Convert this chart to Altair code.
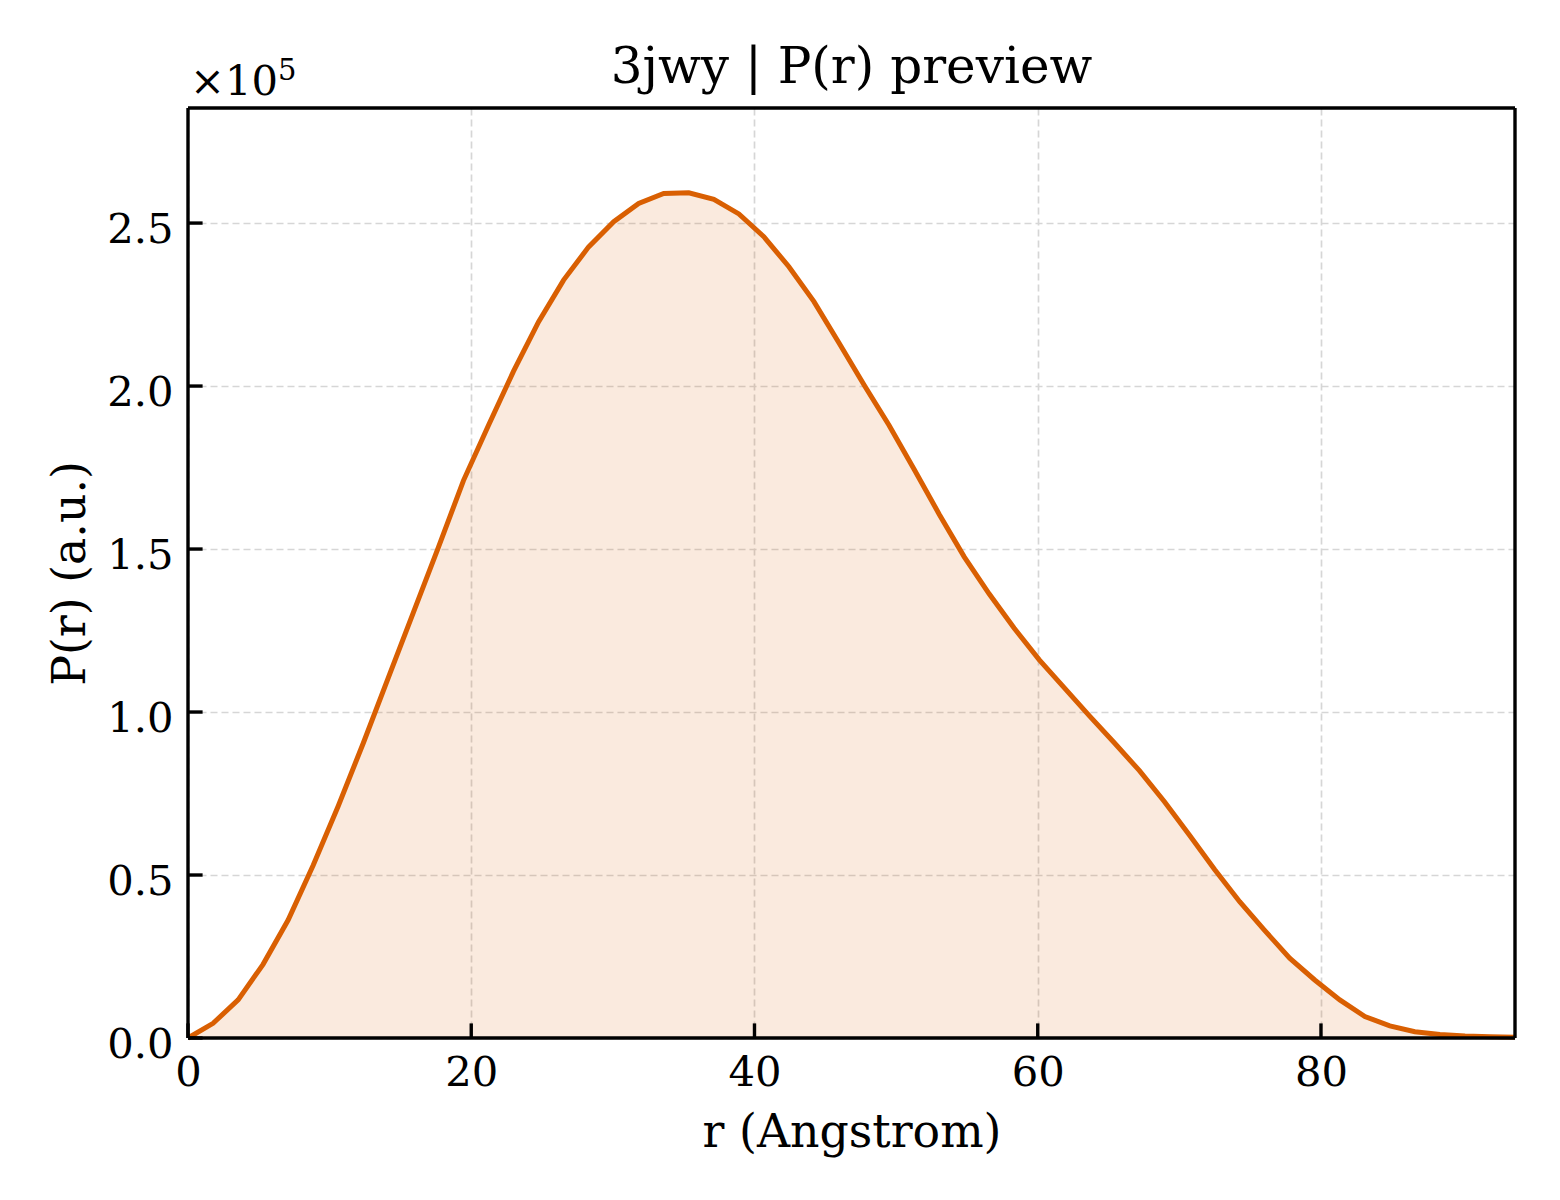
import altair as alt
import pandas as pd

# ---- data ----
r_vals = [0.00, 1.77, 3.54, 5.30, 7.07, 8.84, 10.61, 12.38, 14.14, 15.91,
          17.68, 19.45, 21.22, 22.98, 24.75, 26.52, 28.29, 30.06, 31.82, 33.59,
          35.36, 37.13, 38.90, 40.66, 42.43, 44.20, 45.97, 47.74, 49.50, 51.27,
          53.04, 54.81, 56.58, 58.34, 60.11, 61.88, 63.65, 65.42, 67.18, 68.95,
          70.72, 72.49, 74.26, 76.02, 77.79, 79.56, 81.33, 83.10, 84.86, 86.63,
          88.40, 90.17, 91.94, 93.70]
p_vals = [0, 4500, 11700, 22600, 36200, 53000, 71200, 90500, 110500, 130500,
          150500, 171000, 188000, 204500, 219700, 232500, 242700, 250400, 256000, 259100,
          259300, 257300, 252800, 245800, 236600, 225900, 213200, 200300, 188000, 174500,
          160700, 147600, 136200, 125700, 116000, 107400, 98800, 90500, 82000, 72500,
          62200, 51700, 41800, 33000, 24500, 17800, 11700, 6600, 3700, 1900,
          1100, 600, 400, 200]
x_ticks = [0, 20, 40, 60, 80]
y_ticks = [0, 50000, 100000, 150000, 200000, 250000]
title_text = "3jwy | P(r) preview"
x_title = "r (Angstrom)"
y_title = "P(r) (a.u.)"

X_MAX, Y_MAX = 93.7, 285300
W, H = 1327, 930
FONT = "DejaVu Serif"
COLOR = "#d95f02"
TICK = 14.6   # inward tick length, px
LW = 3.4      # frame / tick line width, px

df = pd.DataFrame({"r": r_vals, "P": p_vals})
xt = pd.DataFrame({"v": x_ticks})
yt = pd.DataFrame({"v": y_ticks})

xscale = alt.Scale(domain=[0, X_MAX], nice=False, zero=False)
yscale = alt.Scale(domain=[0, Y_MAX], nice=False, zero=False)

common = dict(
    ticks=False, domain=False, grid=True,
    gridColor="#d6d6d6", gridWidth=1.7, gridDash=[7, 4],
    labelFont=FONT, labelFontSize=41.7, labelColor="black",
    labelFlush=False, labelOverlap=False,
    titleFont=FONT, titleFontSize=45.8, titleFontWeight="normal", titleColor="black",
    titleBaseline="alphabetic",
)
xaxis = alt.Axis(values=x_ticks, title=x_title, labelPadding=14.5, format="d",
                 titleY=108, **common)
yaxis = alt.Axis(values=y_ticks, title=y_title, labelPadding=15, labelOffset=6,
                 labelExpr="format(datum.value/100000, '.1f')",
                 titleX=-104, titleY=H / 2, titleAngle=-90, titleAlign="center",
                 **common)

base = alt.Chart(df)
area = base.mark_area(color=COLOR, fillOpacity=0.13).encode(
    x=alt.X("r:Q", scale=xscale, axis=xaxis),
    y=alt.Y("P:Q", scale=yscale, axis=yaxis),
)
line = base.mark_line(color=COLOR, strokeWidth=5).encode(
    x=alt.X("r:Q", scale=xscale),
    y=alt.Y("P:Q", scale=yscale),
)

# inward ticks
ytick_rules = alt.Chart(yt).mark_rule(color="black", strokeWidth=LW).encode(
    y=alt.Y("v:Q", scale=yscale),
    x=alt.value(0),
    x2=alt.value(TICK),
)
xtick_rules = alt.Chart(xt).mark_rule(color="black", strokeWidth=LW).encode(
    x=alt.X("v:Q", scale=xscale),
    y=alt.value(H),
    y2=alt.value(H - TICK),
)

# plot frame through the scales' extremes
frame_h = alt.Chart(pd.DataFrame({"f": [0, Y_MAX]})).mark_rule(color="black", strokeWidth=LW).encode(
    y=alt.Y("f:Q", scale=yscale), x=alt.value(0), x2=alt.value(W))
frame_v = alt.Chart(pd.DataFrame({"f": [0, X_MAX]})).mark_rule(color="black", strokeWidth=LW).encode(
    x=alt.X("f:Q", scale=xscale), y=alt.value(0), y2=alt.value(H))

title_mark = alt.Chart(pd.DataFrame({"t": [title_text]})).mark_text(
    font=FONT, fontSize=50, align="center", baseline="alphabetic", color="black"
).encode(x=alt.value(W / 2), y=alt.value(-25), text="t:N")
mult = alt.Chart(pd.DataFrame({"t": ["×10"]})).mark_text(
    font=FONT, fontSize=41.7, align="left", baseline="alphabetic", color="black"
).encode(x=alt.value(2), y=alt.value(-13), text="t:N")
expo = alt.Chart(pd.DataFrame({"t": ["5"]})).mark_text(
    font=FONT, fontSize=29, align="left", baseline="alphabetic", color="black"
).encode(x=alt.value(90), y=alt.value(-28), text="t:N")

chart = alt.layer(area, line, ytick_rules, xtick_rules, frame_h, frame_v,
                  title_mark, mult, expo).properties(
    width=W,
    height=H,
    background="white",
    autosize=alt.AutoSizeParams(type="none"),
    padding={"left": 180, "top": 100, "right": 37, "bottom": 154},
).configure_view(strokeWidth=0)

chart.save("out.html", embed_options={"renderer": "svg", "actions": False})
